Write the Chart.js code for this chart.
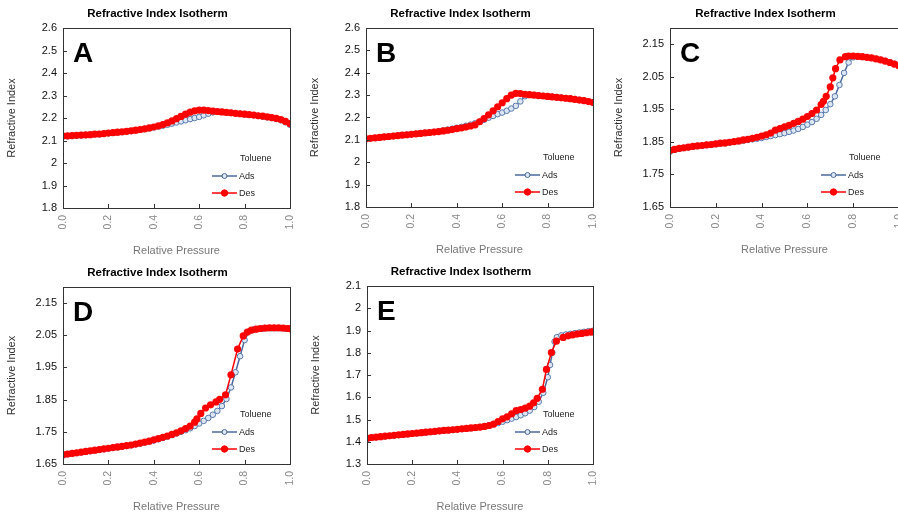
<!DOCTYPE html>
<html>
<head>
<meta charset="utf-8">
<script src="https://cdn.jsdelivr.net/npm/chart.js@4.4.1/dist/chart.umd.min.js"></script>
<style>
  html, body { margin: 0; padding: 0; background: #fff; overflow: hidden; }
  body { width: 898px; height: 519px; position: relative; }
  .panel { position: absolute; }
</style>
</head>
<body>
<div class="panel" style="left:0px;top:0px;width:300px;height:258px"><canvas id="chartA"></canvas></div>
<div class="panel" style="left:303px;top:0px;width:300px;height:257px"><canvas id="chartB"></canvas></div>
<div class="panel" style="left:607px;top:0px;width:302px;height:257px"><canvas id="chartC"></canvas></div>
<div class="panel" style="left:0px;top:259px;width:300px;height:255px"><canvas id="chartD"></canvas></div>
<div class="panel" style="left:304px;top:258px;width:299px;height:256px"><canvas id="chartE"></canvas></div>
<script>
// ---- data ----
const xTickValues = [0, 0.2, 0.4, 0.6, 0.8, 1.0];
const xTickLabels = ["0.0", "0.2", "0.4", "0.6", "0.8", "1.0"];

const yTicksAB = [1.8, 1.9, 2.0, 2.1, 2.2, 2.3, 2.4, 2.5, 2.6];
const yLabelsAB = ["1.8", "1.9", "2", "2.1", "2.2", "2.3", "2.4", "2.5", "2.6"];
const yTicksCD = [1.65, 1.75, 1.85, 1.95, 2.05, 2.15];
const yLabelsCD = ["1.65", "1.75", "1.85", "1.95", "2.05", "2.15"];
const yTicksE = [1.3, 1.4, 1.5, 1.6, 1.7, 1.8, 1.9, 2.0, 2.1];
const yLabelsE = ["1.3", "1.4", "1.5", "1.6", "1.7", "1.8", "1.9", "2", "2.1"];

// common pressure grid used by the densely sampled branches
const pressure = [0.00, 0.02, 0.04, 0.06, 0.08, 0.10, 0.12, 0.14, 0.16, 0.18,
  0.20, 0.22, 0.24, 0.26, 0.28, 0.30, 0.32, 0.34, 0.36, 0.38,
  0.40, 0.42, 0.44, 0.46, 0.48, 0.50, 0.52, 0.54, 0.56, 0.58,
  0.60, 0.62, 0.64, 0.66, 0.68, 0.70, 0.72, 0.74, 0.76, 0.78,
  0.80, 0.82, 0.84, 0.86, 0.88, 0.90, 0.92, 0.94, 0.96, 0.98, 1.00];

// A
const adsA = [2.118, 2.119, 2.120, 2.121, 2.123, 2.124, 2.125, 2.127, 2.128, 2.130,
  2.132, 2.134, 2.135, 2.137, 2.140, 2.142, 2.145, 2.148, 2.151, 2.154,
  2.158, 2.162, 2.166, 2.170, 2.175, 2.180, 2.185, 2.190, 2.195, 2.200,
  2.205, 2.212, 2.219, 2.225, 2.228, 2.227, 2.225, 2.223, 2.221, 2.219,
  2.217, 2.214, 2.212, 2.209, 2.206, 2.203, 2.200, 2.196, 2.190, 2.181, 2.170];
const desA = [2.120, 2.121, 2.122, 2.123, 2.124, 2.125, 2.126, 2.128, 2.129, 2.131,
  2.133, 2.135, 2.137, 2.139, 2.141, 2.143, 2.146, 2.149, 2.152, 2.156,
  2.160, 2.165, 2.171, 2.178, 2.187, 2.197, 2.207, 2.217, 2.226, 2.232,
  2.235, 2.235, 2.233, 2.231, 2.229, 2.227, 2.225, 2.223, 2.221, 2.219,
  2.217, 2.215, 2.213, 2.210, 2.208, 2.205, 2.202, 2.198, 2.193, 2.185, 2.175];

// B
const adsB = [2.105, 2.107, 2.109, 2.111, 2.113, 2.115, 2.117, 2.119, 2.121, 2.123,
  2.125, 2.127, 2.129, 2.131, 2.133, 2.136, 2.139, 2.142, 2.146, 2.150,
  2.154, 2.158, 2.163, 2.168, 2.174, 2.181, 2.190, 2.199, 2.207, 2.215,
  2.222, 2.230, 2.240, 2.252, 2.272, 2.295, 2.302, 2.301, 2.299, 2.297,
  2.295, 2.293, 2.291, 2.289, 2.287, 2.285, 2.282, 2.279, 2.276, 2.272, 2.268];
const desB = [2.105, 2.107, 2.109, 2.111, 2.113, 2.115, 2.117, 2.119, 2.121, 2.123,
  2.125, 2.127, 2.129, 2.131, 2.133, 2.135, 2.137, 2.140, 2.143, 2.146,
  2.150, 2.153, 2.157, 2.162, 2.167, 2.181, 2.195, 2.212, 2.230, 2.248,
  2.266, 2.284, 2.300, 2.308, 2.307, 2.304, 2.302, 2.300, 2.298, 2.296,
  2.294, 2.292, 2.290, 2.288, 2.286, 2.284, 2.281, 2.278, 2.275, 2.271, 2.267];

// C
const adsC = [1.820, 1.826, 1.829, 1.831, 1.833, 1.835, 1.837, 1.838, 1.840, 1.841,
  1.843, 1.845, 1.846, 1.848, 1.850, 1.852, 1.854, 1.856, 1.858, 1.860,
  1.862, 1.865, 1.868, 1.871, 1.874, 1.877, 1.881, 1.885, 1.890, 1.896,
  1.903, 1.911, 1.921, 1.933, 1.948, 1.966, 1.990, 2.025, 2.062, 2.094,
  2.110, 2.112, 2.111, 2.110, 2.108, 2.105, 2.102, 2.099, 2.095, 2.090, 2.085];
const desCx = [0.00, 0.02, 0.04, 0.06, 0.08, 0.10, 0.12, 0.14, 0.16, 0.18,
  0.20, 0.22, 0.24, 0.26, 0.28, 0.30, 0.32, 0.34, 0.36, 0.38,
  0.40, 0.42, 0.44, 0.46, 0.48, 0.50, 0.52, 0.54, 0.56, 0.58,
  0.60, 0.62, 0.64, 0.66, 0.67, 0.682, 0.70, 0.711, 0.723, 0.742,
  0.766, 0.78, 0.80, 0.82, 0.84, 0.86, 0.88, 0.90, 0.92, 0.94, 0.96, 0.98, 1.00];
const desC = [1.824, 1.827, 1.830, 1.832, 1.834, 1.836, 1.838, 1.839, 1.841, 1.842,
  1.844, 1.846, 1.847, 1.849, 1.851, 1.853, 1.856, 1.858, 1.861, 1.864,
  1.868, 1.872, 1.877, 1.886, 1.891, 1.896, 1.901, 1.907, 1.913, 1.920,
  1.928, 1.937, 1.948, 1.965, 1.975, 1.990, 2.019, 2.047, 2.075, 2.102,
  2.112, 2.114, 2.114, 2.113, 2.112, 2.110, 2.108, 2.105, 2.102, 2.098, 2.094, 2.089, 2.084];

// D
const adsD = [1.677, 1.680, 1.682, 1.684, 1.686, 1.688, 1.690, 1.692, 1.694, 1.696,
  1.698, 1.700, 1.702, 1.704, 1.706, 1.708, 1.711, 1.714, 1.717, 1.720,
  1.723, 1.727, 1.731, 1.735, 1.740, 1.745, 1.750, 1.755, 1.761, 1.768,
  1.776, 1.784, 1.793, 1.803, 1.815, 1.830, 1.852, 1.888, 1.935, 1.985,
  2.035, 2.062, 2.068, 2.070, 2.071, 2.072, 2.072, 2.072, 2.072, 2.071, 2.070];
const desDx = [0.00, 0.02, 0.04, 0.06, 0.08, 0.10, 0.12, 0.14, 0.16, 0.18,
  0.20, 0.22, 0.24, 0.26, 0.28, 0.30, 0.32, 0.34, 0.36, 0.38,
  0.40, 0.42, 0.44, 0.46, 0.48, 0.50, 0.52, 0.54, 0.56, 0.58,
  0.59, 0.607, 0.628, 0.65, 0.674, 0.69, 0.716, 0.74, 0.769, 0.794,
  0.812, 0.83, 0.85, 0.87, 0.89, 0.91, 0.93, 0.95, 0.97, 0.99, 1.00];
const desD = [1.679, 1.681, 1.683, 1.685, 1.687, 1.689, 1.691, 1.693, 1.695, 1.697,
  1.699, 1.701, 1.703, 1.705, 1.707, 1.709, 1.712, 1.715, 1.718, 1.721,
  1.725, 1.729, 1.733, 1.737, 1.742, 1.747, 1.753, 1.760, 1.768, 1.780,
  1.790, 1.807, 1.824, 1.834, 1.843, 1.851, 1.865, 1.927, 2.007, 2.048,
  2.060, 2.066, 2.069, 2.071, 2.072, 2.073, 2.073, 2.073, 2.072, 2.071, 2.070];

// E
const adsEx = [0.00, 0.02, 0.04, 0.06, 0.08, 0.10, 0.12, 0.14, 0.16, 0.18,
  0.20, 0.22, 0.24, 0.26, 0.28, 0.30, 0.32, 0.34, 0.36, 0.38,
  0.40, 0.42, 0.44, 0.46, 0.48, 0.50, 0.52, 0.54, 0.56, 0.58,
  0.60, 0.62, 0.64, 0.66, 0.68, 0.70, 0.72, 0.74, 0.76, 0.78,
  0.80, 0.81, 0.82, 0.83, 0.84, 0.86, 0.88, 0.90, 0.92, 0.94, 0.96, 0.98, 1.00];
const adsE = [1.410, 1.418, 1.420, 1.422, 1.424, 1.426, 1.428, 1.430, 1.432, 1.434,
  1.436, 1.438, 1.440, 1.442, 1.444, 1.446, 1.448, 1.450, 1.451, 1.453,
  1.455, 1.457, 1.459, 1.461, 1.463, 1.466, 1.469, 1.473, 1.478, 1.484,
  1.490, 1.497, 1.504, 1.511, 1.519, 1.528, 1.540, 1.556, 1.580, 1.620,
  1.690, 1.745, 1.800, 1.850, 1.870, 1.878, 1.882, 1.885, 1.888, 1.891, 1.894, 1.897, 1.899];
const desEx = [0.00, 0.02, 0.04, 0.06, 0.08, 0.10, 0.12, 0.14, 0.16, 0.18,
  0.20, 0.22, 0.24, 0.26, 0.28, 0.30, 0.32, 0.34, 0.36, 0.38,
  0.40, 0.42, 0.44, 0.46, 0.48, 0.50, 0.52, 0.54, 0.56, 0.58,
  0.60, 0.62, 0.64, 0.66, 0.68, 0.70, 0.72, 0.737, 0.753, 0.776,
  0.794, 0.816, 0.838, 0.868, 0.89, 0.91, 0.93, 0.95, 0.97, 0.99, 1.00];
const desE = [1.416, 1.419, 1.421, 1.423, 1.425, 1.427, 1.429, 1.431, 1.433, 1.435,
  1.437, 1.439, 1.441, 1.443, 1.445, 1.447, 1.449, 1.451, 1.452, 1.454,
  1.456, 1.458, 1.460, 1.462, 1.464, 1.466, 1.469, 1.473, 1.479, 1.491,
  1.503, 1.512, 1.525, 1.540, 1.545, 1.551, 1.560, 1.575, 1.595, 1.636,
  1.725, 1.801, 1.852, 1.869, 1.876, 1.880, 1.884, 1.887, 1.890, 1.893, 1.894];

// ---- styling ----
const FONT = "'Liberation Sans', Arial, sans-serif";
const ADS_LINE = "#4a6a9e";
const ADS_FILL = "#dde6f3";
const DES_RED = "#ff0000";

function toPoints(xs, ys) {
  return xs.map((x, i) => ({ x: x, y: ys[i] }));
}

// draws frame, inward tick marks, chart title, panel letter and legend
const panelDecor = {
  id: "panelDecor",
  afterDatasetsDraw(chart, args, opts) {
    const ctx = chart.ctx;
    const a = chart.chartArea;
    ctx.save();
    // frame
    ctx.strokeStyle = "#333";
    ctx.lineWidth = 1;
    ctx.strokeRect(Math.round(a.left) + 0.5, Math.round(a.top) + 0.5,
      Math.round(a.right - a.left), Math.round(a.bottom - a.top));
    // inward ticks
    const xs = chart.scales.x, ys = chart.scales.y;
    ctx.beginPath();
    xs.ticks.forEach(t => {
      const px = Math.round(xs.getPixelForValue(t.value)) + 0.5;
      ctx.moveTo(px, a.bottom);
      ctx.lineTo(px, a.bottom - 4);
    });
    ys.ticks.forEach(t => {
      const py = Math.round(ys.getPixelForValue(t.value)) + 0.5;
      ctx.moveTo(a.left, py);
      ctx.lineTo(a.left + 4, py);
    });
    ctx.stroke();
    ctx.restore();
  },
  afterDraw(chart, args, opts) {
    const ctx = chart.ctx;
    const a = chart.chartArea;
    ctx.save();
    // title
    ctx.fillStyle = "#000";
    ctx.font = "bold 11.5px " + FONT;
    ctx.textAlign = "center";
    ctx.textBaseline = "middle";
    ctx.fillText("Refractive Index Isotherm", (a.left + a.right) / 2 - 19, a.top - 14);
    // panel letter
    ctx.font = "bold 28px " + FONT;
    ctx.textAlign = "left";
    ctx.textBaseline = "alphabetic";
    ctx.fillText(opts.letter, a.left + 10, a.top + 34);
    // legend
    const lx = a.right - 78;
    const tx = a.right - 50;
    ctx.font = "9px " + FONT;
    ctx.fillStyle = "#222";
    ctx.textBaseline = "middle";
    ctx.fillText("Toluene", tx, a.bottom - 49);
    const rows = [
      { label: "Ads", y: a.bottom - 32, line: ADS_LINE, fill: ADS_FILL, r: 2.5 },
      { label: "Des", y: a.bottom - 15, line: DES_RED, fill: DES_RED, r: 3.2 }
    ];
    rows.forEach(row => {
      ctx.strokeStyle = row.line;
      ctx.lineWidth = 1.5;
      ctx.beginPath();
      ctx.moveTo(lx, row.y);
      ctx.lineTo(lx + 25, row.y);
      ctx.stroke();
      ctx.beginPath();
      ctx.arc(lx + 12.5, row.y, row.r, 0, Math.PI * 2);
      ctx.fillStyle = row.fill;
      ctx.fill();
      ctx.lineWidth = 1;
      ctx.stroke();
      ctx.fillStyle = "#222";
      ctx.fillText(row.label, lx + 27, row.y + 0.5);
    });
    ctx.restore();
  }
};

function makeChart(id, letter, adsPts, desPts, yMin, yMax, yTicks, yLabels) {
  const ctx = document.getElementById(id).getContext("2d");
  return new Chart(ctx, {
    type: "scatter",
    data: {
      datasets: [
        {
          label: "Ads",
          data: adsPts,
          showLine: true,
          borderColor: ADS_LINE,
          borderWidth: 1.5,
          pointRadius: 2.8,
          pointBorderWidth: 1,
          pointBackgroundColor: ADS_FILL,
          pointBorderColor: "#5878ad",
          order: 1
        },
        {
          label: "Des",
          data: desPts,
          showLine: true,
          borderColor: DES_RED,
          borderWidth: 1.5,
          pointRadius: 3.6,
          pointBorderWidth: 0,
          pointBackgroundColor: DES_RED,
          pointBorderColor: DES_RED,
          order: 0
        }
      ]
    },
    options: {
      responsive: true,
      maintainAspectRatio: false,
      animation: false,
      layout: { padding: { top: 28, right: 10, left: 0, bottom: 0 } },
      plugins: {
        legend: { display: false },
        title: { display: false },
        tooltip: { enabled: false },
        panelDecor: { letter: letter }
      },
      scales: {
        x: {
          type: "linear",
          min: 0,
          max: 1,
          afterBuildTicks: scale => { scale.ticks = xTickValues.map(v => ({ value: v })); },
          afterFit: scale => {
            scale.height = 50;
            scale.paddingLeft = 0;
            scale.paddingRight = 0;
          },
          grid: { display: false, drawTicks: false },
          border: { display: false },
          ticks: {
            autoSkip: false,
            minRotation: 90,
            maxRotation: 90,
            padding: 7,
            color: "#888",
            font: { family: FONT, size: 10.5 },
            callback: (value, index) => xTickLabels[index]
          },
          title: {
            display: true,
            text: "Relative Pressure",
            color: "#777",
            font: { family: FONT, size: 11 },
            padding: { top: 8, bottom: 0 }
          }
        },
        y: {
          type: "linear",
          min: yMin,
          max: yMax,
          afterBuildTicks: scale => { scale.ticks = yTicks.map(v => ({ value: v })); },
          afterFit: scale => {
            scale.width = 63;
            scale.paddingTop = 0;
            scale.paddingBottom = 0;
          },
          grid: { display: false, drawTicks: false },
          border: { display: false },
          ticks: {
            autoSkip: false,
            padding: 6,
            color: "#111",
            font: { family: FONT, size: 11 },
            callback: (value, index) => yLabels[index]
          },
          title: {
            display: true,
            text: "Refractive Index",
            color: "#333",
            font: { family: FONT, size: 11 },
            padding: { top: 5, bottom: 0 }
          }
        }
      }
    },
    plugins: [panelDecor]
  });
}

makeChart("chartA", "A", toPoints(pressure, adsA), toPoints(pressure, desA), 1.8, 2.6, yTicksAB, yLabelsAB);
makeChart("chartB", "B", toPoints(pressure, adsB), toPoints(pressure, desB), 1.8, 2.6, yTicksAB, yLabelsAB);
makeChart("chartC", "C", toPoints(pressure, adsC), toPoints(desCx, desC), 1.65, 2.2, yTicksCD, yLabelsCD);
makeChart("chartD", "D", toPoints(pressure, adsD), toPoints(desDx, desD), 1.65, 2.2, yTicksCD, yLabelsCD);
makeChart("chartE", "E", toPoints(adsEx, adsE), toPoints(desEx, desE), 1.3, 2.1, yTicksE, yLabelsE);
</script>
</body>
</html>
